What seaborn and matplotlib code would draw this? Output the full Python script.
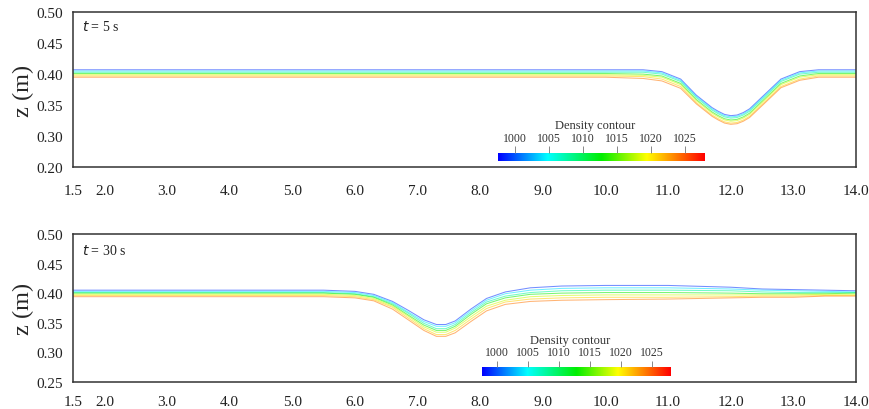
import numpy as np
import pandas as pd
import matplotlib
matplotlib.use("Agg")
import matplotlib.pyplot as plt
from matplotlib.colors import LinearSegmentedColormap
import seaborn as sns

sns.set_theme(style="white")
plt.rcParams["font.family"] = ["Liberation Serif", "DejaVu Serif"]

# bright blue -> cyan -> green -> yellow -> red, like the solver's legend
rainbow = LinearSegmentedColormap.from_list(
    "density", [(0.0, "#0000ff"), (0.24, "#00ffff"), (0.50, "#00ee00"),
                (0.72, "#ffff00"), (1.0, "#ff0000")])

# ---------------------------------------------------------------------------
# data: density contour lines (z in m) along x (m)
# ---------------------------------------------------------------------------
levels = [999, 1004, 1008, 1013, 1018, 1021, 1024]   # kg/m3, top to bottom
rho_min, rho_max = 997.5, 1028.0
cbar_ticks = [1000, 1005, 1010, 1015, 1020, 1025]

x_ticks = [1.5, 2, 3, 4, 5, 6, 7, 8, 9, 10, 11, 12, 13, 14]
x_labels = ["1.5", "2.0", "3.0", "4.0", "5.0", "6.0", "7.0", "8.0", "9.0",
            "10.0", "11.0", "12.0", "13.0", "14.0"]
y_ticks = [0.25, 0.30, 0.35, 0.40, 0.45, 0.50]
y_labels_top = ["0.20", "0.30", "0.35", "0.40", "0.45", "0.50"]
y_labels_bot = ["0.25", "0.30", "0.35", "0.40", "0.45", "0.50"]

# t = 5 s
x_5s = [1.5, 10.0, 10.6, 10.9, 11.2, 11.45, 11.7, 11.8, 11.9, 12.0, 12.1,
        12.2, 12.3, 12.55, 12.8, 13.1, 13.4, 14.0]
z_5s = [
    [0.407, 0.407, 0.407, 0.404, 0.392, 0.366, 0.346, 0.340, 0.335, 0.333, 0.334, 0.338, 0.344, 0.368, 0.392, 0.404, 0.407, 0.407],
    [0.405, 0.405, 0.405, 0.402, 0.390, 0.364, 0.344, 0.338, 0.333, 0.331, 0.332, 0.336, 0.342, 0.366, 0.390, 0.402, 0.405, 0.405],
    [0.403, 0.403, 0.403, 0.400, 0.388, 0.362, 0.342, 0.336, 0.331, 0.329, 0.330, 0.334, 0.340, 0.364, 0.388, 0.400, 0.403, 0.403],
    [0.401, 0.401, 0.400, 0.397, 0.385, 0.359, 0.339, 0.333, 0.328, 0.326, 0.327, 0.331, 0.337, 0.361, 0.385, 0.397, 0.401, 0.401],
    [0.399, 0.399, 0.398, 0.395, 0.383, 0.357, 0.337, 0.331, 0.326, 0.324, 0.325, 0.329, 0.335, 0.359, 0.383, 0.395, 0.399, 0.399],
    [0.397, 0.397, 0.396, 0.392, 0.380, 0.354, 0.334, 0.328, 0.323, 0.321, 0.322, 0.326, 0.332, 0.356, 0.380, 0.392, 0.397, 0.397],
    [0.395, 0.395, 0.393, 0.389, 0.377, 0.352, 0.332, 0.326, 0.321, 0.319, 0.320, 0.324, 0.330, 0.354, 0.378, 0.390, 0.395, 0.395],
]

# t = 30 s
x_30s = [1.5, 5.5, 6.0, 6.3, 6.6, 6.85, 7.1, 7.3, 7.45, 7.6, 7.85, 8.1, 8.4,
         8.8, 9.3, 10.0, 11.0, 12.0, 12.5, 13.0, 13.5, 14.0]
z_30s = [
    [0.405, 0.405, 0.403, 0.398, 0.386, 0.371, 0.355, 0.347, 0.347, 0.353, 0.373, 0.391, 0.402, 0.409, 0.412, 0.413, 0.413, 0.410, 0.407, 0.406, 0.405, 0.404],
    [0.403, 0.403, 0.401, 0.396, 0.384, 0.368, 0.352, 0.344, 0.344, 0.350, 0.370, 0.388, 0.399, 0.405, 0.408, 0.409, 0.409, 0.407, 0.405, 0.404, 0.403, 0.402],
    [0.401, 0.401, 0.399, 0.394, 0.382, 0.366, 0.349, 0.340, 0.340, 0.347, 0.367, 0.385, 0.395, 0.401, 0.404, 0.405, 0.405, 0.404, 0.402, 0.401, 0.401, 0.401],
    [0.400, 0.400, 0.398, 0.393, 0.380, 0.363, 0.346, 0.337, 0.337, 0.344, 0.364, 0.382, 0.392, 0.398, 0.400, 0.401, 0.401, 0.400, 0.399, 0.399, 0.399, 0.400],
    [0.398, 0.398, 0.396, 0.391, 0.378, 0.361, 0.343, 0.334, 0.334, 0.341, 0.360, 0.378, 0.388, 0.394, 0.396, 0.397, 0.397, 0.397, 0.397, 0.397, 0.398, 0.398],
    [0.396, 0.396, 0.394, 0.389, 0.376, 0.358, 0.340, 0.330, 0.330, 0.337, 0.356, 0.374, 0.385, 0.390, 0.392, 0.393, 0.393, 0.394, 0.395, 0.395, 0.396, 0.396],
    [0.394, 0.394, 0.392, 0.387, 0.373, 0.355, 0.337, 0.327, 0.327, 0.333, 0.352, 0.370, 0.381, 0.386, 0.388, 0.389, 0.390, 0.392, 0.393, 0.393, 0.395, 0.395],
]


def to_long(xs, zs):
    rows = []
    for lev, z in zip(levels, zs):
        for xi, zi in zip(xs, z):
            rows.append({"x": xi, "z": zi, "rho": lev})
    return pd.DataFrame(rows)


def density_bar(ax, rect, tick_top, lab_y, title_y):
    cax = ax.inset_axes(rect)
    grad = np.linspace(rho_min, rho_max, 256).reshape(1, -1)
    cax.imshow(grad, cmap=rainbow, aspect="auto",
               extent=[rho_min, rho_max, 0, 1], vmin=rho_min, vmax=rho_max)
    cax.set_xlim(rho_min, rho_max)
    cax.set_ylim(0, 1)
    cax.axis("off")
    cax.vlines(cbar_ticks, 1, tick_top, color="#888888", lw=0.7, clip_on=False)
    for t in cbar_ticks:
        cax.text(t, lab_y, str(t), ha="center", va="center", fontsize=8.5,
                 color="#333333")
    cax.text(np.mean([rho_min, rho_max]) - 1.0, title_y, "Density contour",
             ha="center", va="center", fontsize=9, color="#333333")


fig = plt.figure(figsize=(8.7, 4.1), dpi=100)
ax1 = fig.add_axes([0.084, 0.590, 0.900, 0.378])
ax2 = fig.add_axes([0.084, 0.066, 0.900, 0.361])

panels = [
    (ax1, x_5s, z_5s, y_labels_top, "5 s", 0.91, 12.5,
     [0.543, 0.039, 0.264, 0.052], 1.9, 2.9, 4.5),
    (ax2, x_30s, z_30s, y_labels_bot, "30 s", 0.89, 9.5,
     [0.522, 0.041, 0.241, 0.061], 1.7, 2.6, 4.0),
]

for ax, xs, zs, ylabs, tlab, ty, xpad, rect, tt, ly, tly in panels:
    df = to_long(xs, zs)
    sns.lineplot(data=df, x="x", y="z", hue="rho", palette=rainbow,
                 hue_norm=(rho_min, rho_max), units="rho", estimator=None,
                 sort=False, lw=0.75, alpha=0.55, legend=False, ax=ax)
    ax.set_xlim(1.5, 14.0)
    ax.set_ylim(0.25, 0.50)
    ax.set_xticks(x_ticks)
    ax.set_xticklabels(x_labels)
    ax.set_yticks(y_ticks)
    ax.set_yticklabels(ylabs)
    ax.tick_params(axis="x", length=0, pad=xpad, labelsize=11, colors="#222222")
    ax.tick_params(axis="y", length=0, pad=7, labelsize=11, colors="#222222")
    ax.set_xlabel("")
    ax.set_ylabel("z (m)", fontsize=17.5, labelpad=2)
    for s in ax.spines.values():
        s.set_color("#333333")
        s.set_linewidth(1.1)
    ax.text(0.0115, ty, "$\\mathit{t}$ = " + tlab, transform=ax.transAxes,
            fontsize=10, va="center", ha="left", color="#222222")
    density_bar(ax, rect, tt, ly, tly)

fig.savefig("out.png", dpi=100)
